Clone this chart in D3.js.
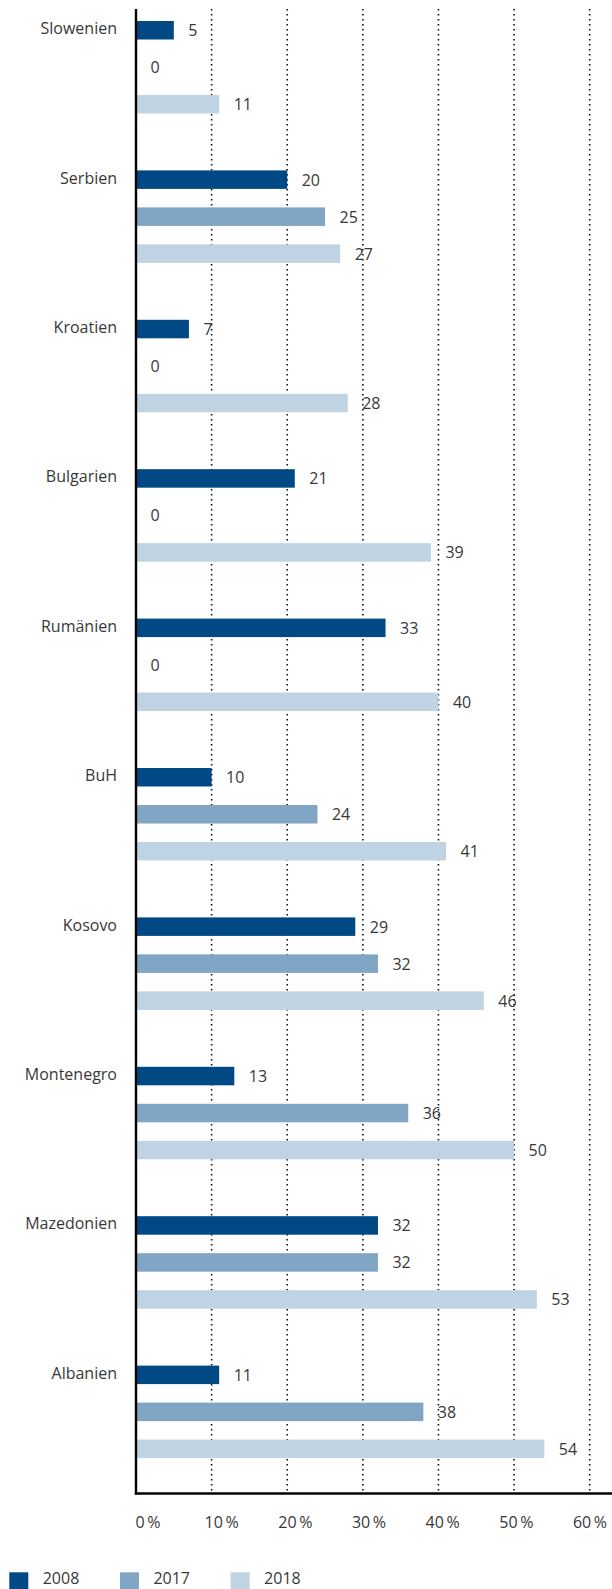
<!DOCTYPE html>
<html>
<head>
<meta charset="utf-8">
<script src="https://cdn.jsdelivr.net/npm/d3@7"></script>
<style>
  html, body { margin: 0; padding: 0; background: #fff; }
  svg { display: block; font-family: "Open Sans", "Noto Sans", sans-serif; font-weight: 400; }
</style>
</head>
<body>
<svg id="chart" width="612" height="1589"></svg>
<script>
const countries = ["Slowenien","Serbien","Kroatien","Bulgarien","Rumänien","BuH","Kosovo","Montenegro","Mazedonien","Albanien"];
const years = ["2008","2017","2018"];
const values2008 = [5, 20, 7, 21, 33, 10, 29, 13, 32, 11];
const values2017 = [0, 25, 0, 0, 0, 24, 32, 36, 32, 38];
const values2018 = [11, 27, 28, 39, 40, 41, 46, 50, 53, 54];
const tickValues = [0, 10, 20, 30, 40, 50, 60];
const tickLabels = ["0\u2009%","10\u2009%","20\u2009%","30\u2009%","40\u2009%","50\u2009%","60\u2009%"];
const colors = ["#004985", "#80a5c5", "#bfd3e2"];

const series = [values2008, values2017, values2018];

const svg = d3.select("#chart");
const textColor = "#383838";

const x = d3.scaleLinear().domain([0, 60]).range([136, 589.7]);
const xLabel = d3.scaleLinear().domain([0, 60]).range([148, 590]);
const yGroup = d3.scaleBand().domain(countries).range([21, 21 + 1494]).paddingInner(0).paddingOuter(0);
const ySub = d3.scaleBand().domain(years).range([0, 92.5]).paddingInner(0.5).paddingOuter(0);

const plotTop = 9, plotBottom = 1493.5;

// gridlines
svg.append("g").selectAll("line")
  .data(tickValues.filter(d => d > 0))
  .join("line")
  .attr("x1", d => x(d)).attr("x2", d => x(d))
  .attr("y1", plotTop).attr("y2", plotBottom)
  .attr("stroke", "#111")
  .attr("stroke-width", 1.6)
  .attr("stroke-dasharray", "1.6,3.4");

// bars
const g = svg.append("g");
countries.forEach((c, ci) => {
  years.forEach((yr, yi) => {
    const v = series[yi][ci];
    const y0 = yGroup(c) + ySub(yr);
    const h = ySub.bandwidth();
    if (v > 0) {
      g.append("rect")
        .attr("x", x(0))
        .attr("y", y0)
        .attr("width", x(v) - x(0))
        .attr("height", h)
        .attr("fill", colors[yi]);
    }
    g.append("text")
      .attr("x", x(v) + 14.5)
      .attr("y", y0 + h / 2)
      .attr("dominant-baseline", "central")
      .attr("font-size", 16)
      .attr("fill", textColor)
      .text(v);
  });
  // category label
  svg.append("text")
    .attr("x", 117)
    .attr("y", yGroup(c) + ySub("2008") + ySub.bandwidth() / 2 - 2)
    .attr("text-anchor", "end")
    .attr("dominant-baseline", "central")
    .attr("font-size", 16)
    .attr("fill", textColor)
    .text(c);
});

// axes lines
svg.append("line")
  .attr("x1", x(0)).attr("x2", x(0))
  .attr("y1", plotTop).attr("y2", plotBottom + 1)
  .attr("stroke", "#000").attr("stroke-width", 2.4);
svg.append("line")
  .attr("x1", x(0) - 1.2).attr("x2", 612)
  .attr("y1", plotBottom).attr("y2", plotBottom)
  .attr("stroke", "#000").attr("stroke-width", 2.4);

// tick labels
svg.append("g").selectAll("text")
  .data(tickValues)
  .join("text")
  .attr("x", d => xLabel(d))
  .attr("y", 1528)
  .attr("text-anchor", "middle")
  .attr("font-size", 16)
  .attr("fill", textColor)
  .text((d, i) => tickLabels[i]);

// legend
const legendX = d3.scaleLinear().domain([0, 1]).range([9.3, 120]);
const legend = svg.append("g");
years.forEach((yr, i) => {
  legend.append("rect")
    .attr("x", legendX(i))
    .attr("y", 1572.3)
    .attr("width", 19)
    .attr("height", 19)
    .attr("fill", colors[i]);
  legend.append("text")
    .attr("x", legendX(i) + 33.4)
    .attr("y", 1584.3)
    .attr("font-size", 16)
    .attr("fill", textColor)
    .text(yr);
});
</script>
</body>
</html>
